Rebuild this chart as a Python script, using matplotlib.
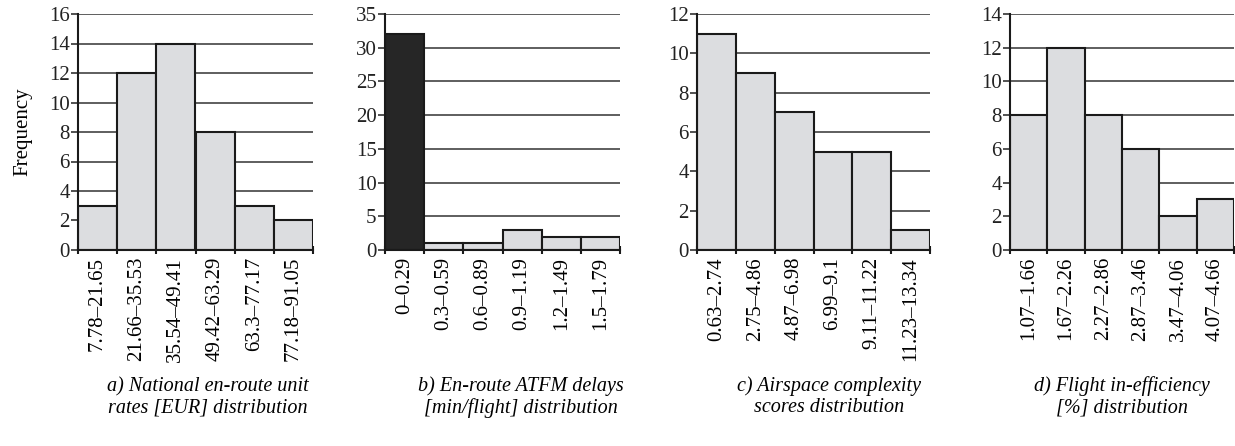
import matplotlib.pyplot as plt

plt.rcParams['font.family'] = ['Liberation Serif', 'DejaVu Serif']

# Data
labels_a = ["7.78–21.65", "21.66–35.53", "35.54–49.41", "49.42–63.29", "63.3–77.17", "77.18–91.05"]
freq_a = [3, 12, 14, 8, 3, 2]

labels_b = ["0–0.29", "0.3–0.59", "0.6–0.89", "0.9–1.19", "1.2–1.49", "1.5–1.79"]
freq_b = [32, 1, 1, 3, 2, 2]

labels_c = ["0.63–2.74", "2.75–4.86", "4.87–6.98", "6.99–9.1", "9.11–11.22", "11.23–13.34"]
freq_c = [11, 9, 7, 5, 5, 1]

labels_d = ["1.07–1.66", "1.67–2.26", "2.27–2.86", "2.87–3.46", "3.47–4.06", "4.07–4.66"]
freq_d = [8, 12, 8, 6, 2, 3]

captions = [
    "a) National en-route unit\nrates [EUR] distribution",
    "b) En-route ATFM delays\n[min/flight] distribution",
    "c) Airspace complexity\nscores distribution",
    "d) Flight in-efficiency\n[%] distribution",
]

W, H = 1235, 446
fig = plt.figure(figsize=(W / 100, H / 100), dpi=100)

# axes boxes in pixels: left, right
boxes = [(78, 313), (385, 620), (697, 930), (1010, 1234)]
top, bottom = 14, 250
caption_x = [208, 521, 829, 1122]

panels = [
    (labels_a, freq_a, 16, 2, ["#dcdde0"] * 6),
    (labels_b, freq_b, 35, 5, ["#262626"] + ["#dcdde0"] * 5),
    (labels_c, freq_c, 12, 2, ["#dcdde0"] * 6),
    (labels_d, freq_d, 14, 2, ["#dcdde0"] * 6),
]

fs = 15
for i, ((labels, freq, ymax, step, colors), (l, r)) in enumerate(zip(panels, boxes)):
    ax = fig.add_axes([l / W, 1 - bottom / H, (r - l) / W, (bottom - top) / H])
    n = len(freq)
    x = list(range(n))
    ax.set_axisbelow(True)
    ax.yaxis.grid(True, color="#333333", linewidth=1.1)
    ax.bar(x, freq, width=1, align="edge", color=colors, edgecolor="#1a1a1a",
           linewidth=1.5, zorder=3)
    ax.set_xlim(0, n)
    ax.set_ylim(0, ymax)
    ax.set_yticks(range(0, ymax + 1, step))
    ax.set_xticks(range(n + 1))
    ax.set_xticklabels([])
    ax.set_xticks([k + 0.5 for k in x], minor=True)
    ax.set_xticklabels(labels, minor=True, rotation=90, fontsize=fs)
    ax.tick_params(axis="x", which="major", length=6, width=1.5, direction="inout", color="#1a1a1a")
    ax.tick_params(axis="x", which="minor", length=0, pad=5)
    ax.tick_params(axis="y", length=5, width=1.2, labelsize=fs, pad=1, color="#333333")
    for s in ["top", "right"]:
        ax.spines[s].set_visible(False)
    for s in ["left", "bottom"]:
        ax.spines[s].set_linewidth(1.5)
        ax.spines[s].set_color("#1a1a1a")
        ax.spines[s].set_zorder(4)
    for lab in ax.get_yticklabels():
        lab.set_color("#222222")
    if i == 0:
        ax.set_ylabel("Frequency", fontsize=fs, labelpad=12)
    fig.text(caption_x[i] / W, 1 - 397 / H, captions[i], ha="center", va="center",
             fontsize=14.5, style="italic", linespacing=1.15)

fig.savefig("out.png", dpi=100)
